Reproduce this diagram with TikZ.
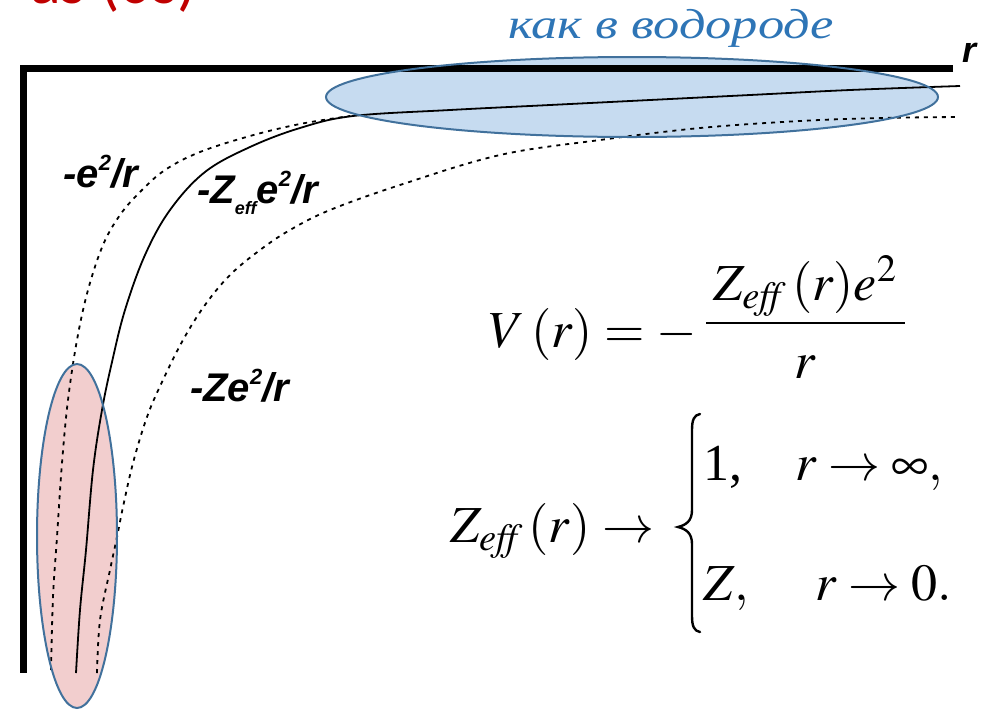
\documentclass[tikz,border=0pt]{standalone}
\usepackage{mathptmx}
\usepackage{fontspec}
\setmainfont{Liberation Serif}
\newfontfamily\labfont{Liberation Sans}
\newfontfamily\headfont{Carlito}
\definecolor{headred}{RGB}{192,0,0}
\definecolor{hblue}{RGB}{46,117,182}
\definecolor{efill}{RGB}{198,219,240}
\definecolor{pfill}{RGB}{242,206,206}
\definecolor{eline}{RGB}{65,113,156}
\newcommand{\supr}[1]{\raisebox{0.42em}{\fontsize{22}{22}\selectfont #1}}
\newcommand{\subr}[1]{\raisebox{-0.28em}{\fontsize{18}{18}\selectfont #1}}
\tikzset{
  axisline/.style={line width=7pt, line join=miter},
  dashcurve/.style={line width=1.8pt, dash pattern=on 4pt off 5pt},
  solidcurve/.style={line width=1.8pt},
  lab/.style={font=\labfont\bfseries\itshape\fontsize{40}{40}\selectfont, anchor=base west, inner sep=0pt},
  eq/.style={font=\fontsize{52}{52}\selectfont, inner sep=0pt},
  ellborder/.style={draw=eline, line width=2pt},
  bracepath/.style={line width=2.4pt, line cap=round}
}
\begin{document}
\begin{tikzpicture}[x=1pt,y=-1pt]
\useasboundingbox (0,0) rectangle (1000,710);
\clip (0,0) rectangle (1000,710);
% heading (cut off at top)
\node[font=\headfont\fontsize{64}{64}\selectfont, text=headred, anchor=base west, inner sep=0pt] (head) at (30,3) {as (0s)};
% ellipse fills
\fill[efill] (632,97) ellipse [x radius=306, y radius=40];
\fill[pfill] (77,536) ellipse [x radius=40, y radius=172];
% axes
\coordinate (xend) at (953,68);
\coordinate (origin) at (23,68);
\coordinate (yend) at (23,673);
\draw[axisline] (xend) -- (origin) -- (yend);
\node[font=\labfont\bfseries\itshape\fontsize{36}{36}\selectfont, anchor=base west, inner sep=0pt] (rlab) at (962,62) {r};
% curves
\draw[solidcurve] plot[smooth, tension=0.6] coordinates {(76,673) (80,610) (86,550) (93,470) (102,410) (112,362) (125,310) (145,255) (170,210) (205,172) (250,147) (300,128) (353,116) (450,110) (550,105) (650,100) (750,95) (850,90) (960,86)};
\draw[dashcurve] plot[smooth, tension=0.6] coordinates {(51,670) (53,597) (57,537) (62,463) (68,400) (77,340) (88,290) (103,245) (120,215) (140,192) (165,170) (200,152) (250,136) (300,124) (350,116)};
\draw[dashcurve] plot[smooth, tension=0.6] coordinates {(97,673) (100,620) (110,570) (117,537) (123,507) (133,463) (147,417) (162,382) (183,340) (205,305) (230,275) (260,250) (290,230) (330,210) (400,185) (500,155) (600,140) (700,128) (800,121) (880,118) (958,117)};
% ellipse borders
\draw[ellborder] (632,97) ellipse [x radius=306, y radius=40];
\draw[ellborder] (77,536) ellipse [x radius=40, y radius=172];
% hydrogen label
\node[font=\itshape\fontsize{42}{42}\selectfont, text=hblue, anchor=base west, inner sep=0pt, xscale=1.25] (hyd) at (508,38) {как в водороде};
% curve labels
\node[lab] (l1) at (63,187) {-e\supr{2}/r};
\node[lab] (l2) at (197,203) {-Z\subr{eff}e\supr{2}/r};
\node[lab] (l3) at (190,401) {-Ze\supr{2}/r};
% equation 1
\node[eq, anchor=base east] (vlhs) at (697,347) {$V\,(r)=-$};
\node[eq, anchor=base] (vnum) at (805,300) {$Z_{\mathit{eff}}\,(r)e^2$};
\node[eq, anchor=base] (vden) at (805,378) {$r$};
\coordinate (barl) at (706,323);
\coordinate (barr) at (905,323);
\draw[line width=2pt] (barl) -- (barr);
% equation 2
\node[eq, anchor=base west] (zlhs) at (450,542) {$Z_{\mathit{eff}}\,(r)\rightarrow$};
\coordinate (bt) at (700,414);
\coordinate (btip) at (678,527);
\coordinate (bb) at (700,632);
\draw[bracepath] (bt) .. controls (694,415) and (692,420) .. (692,430) -- (692,510) .. controls (692,521) and (686,525) .. (btip) .. controls (686,529) and (692,533) .. (692,544) -- (692,616) .. controls (692,626) and (694,631) .. (bb);
\node[eq, anchor=base west] (c1a) at (703,480) {1,};
\node[eq, anchor=base west] (c1b) at (795,480) {$r\rightarrow\infty,$};
\node[eq, anchor=base west] (c2a) at (703,600) {$Z,$};
\node[eq, anchor=base west] (c2b) at (815,600) {$r\rightarrow 0.$};
\end{tikzpicture}
\end{document}
